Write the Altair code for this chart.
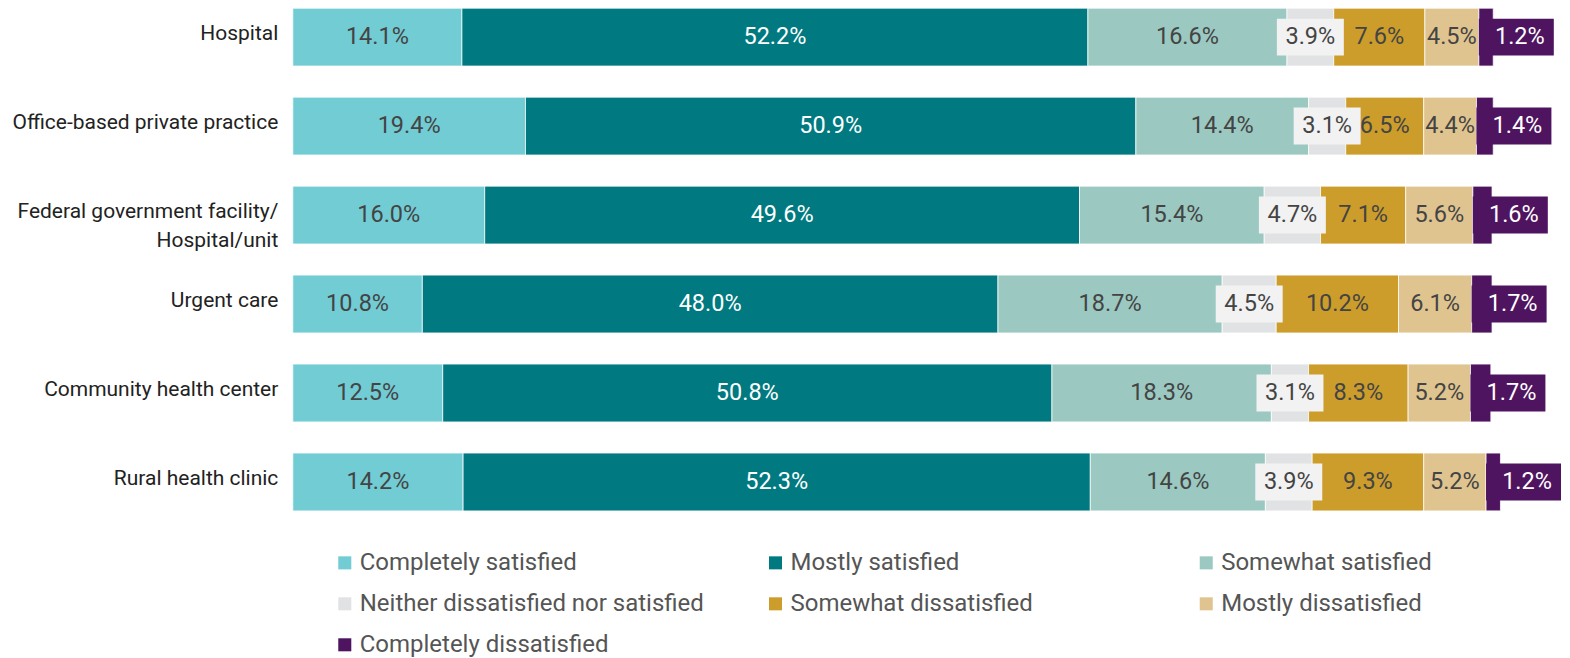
import altair as alt
import pandas as pd

categories = [
    "Hospital",
    "Office-based private practice",
    "Federal government facility/|Hospital/unit",
    "Urgent care",
    "Community health center",
    "Rural health clinic",
]
series = [
    "Completely satisfied",
    "Mostly satisfied",
    "Somewhat satisfied",
    "Neither dissatisfied nor satisfied",
    "Somewhat dissatisfied",
    "Mostly dissatisfied",
    "Completely dissatisfied",
]
colors = ["#72CCD4", "#007A80", "#9BC9C1", "#E1E2E3", "#CC9D2B", "#E0C48F", "#4E1460"]
text_colors = ["#444444", "#ffffff", "#444444", "#444444", "#444444", "#444444", "#ffffff"]

completely_satisfied = [14.1, 19.4, 16.0, 10.8, 12.5, 14.2]
mostly_satisfied = [52.2, 50.9, 49.6, 48.0, 50.8, 52.3]
somewhat_satisfied = [16.6, 14.4, 15.4, 18.7, 18.3, 14.6]
neither = [3.9, 3.1, 4.7, 4.5, 3.1, 3.9]
somewhat_dissatisfied = [7.6, 6.5, 7.1, 10.2, 8.3, 9.3]
mostly_dissatisfied = [4.5, 4.4, 5.6, 6.1, 5.2, 5.2]
completely_dissatisfied = [1.2, 1.4, 1.6, 1.7, 1.7, 1.2]

all_values = [completely_satisfied, mostly_satisfied, somewhat_satisfied, neither,
              somewhat_dissatisfied, mostly_dissatisfied, completely_dissatisfied]

rows = []
for ci, cat in enumerate(categories):
    cum = 0.0
    for si, s in enumerate(series):
        v = all_values[si][ci]
        rows.append({
            "category": cat, "series": s, "order": si, "value": v,
            "start": cum, "end": cum + v, "mid": cum + v / 2,
            "label": f"{v:.1f}%", "tcolor": text_colors[si],
        })
        cum += v
df = pd.DataFrame(rows)

FONT = "Roboto"
VFS = 23.5
y_enc = alt.Y("category:N", sort=categories, title=None,
              scale=alt.Scale(paddingInner=0.35, paddingOuter=0),
              axis=alt.Axis(domain=False, ticks=False, grid=False, labelFontSize=21,
                            labelColor="#222222", labelFont=FONT, labelPadding=15, labelLimit=400,
                            labelLineHeight=29, labelExpr="split(datum.value, '|')", labelOffset=-3))
x_scale = alt.Scale(domain=[0, 100], nice=False, zero=True)

def xq(field):
    return alt.X(field, scale=x_scale, axis=None, title=None)

bars = alt.Chart(df).mark_bar(stroke="white", strokeWidth=0.75).encode(
    x=xq("start:Q"),
    x2="end:Q",
    y=y_enc,
    color=alt.Color("series:N", sort=series,
                    scale=alt.Scale(domain=series, range=colors),
                    legend=alt.Legend(title=None, orient="none", legendX=40, legendY=543,
                                      columns=3, gridAlign="all", columnPadding=59, rowPadding=17,
                                      symbolType="square", symbolSize=170, symbolStrokeWidth=0,
                                      labelFontSize=24, labelColor="#555555", labelFont=FONT,
                                      labelOffset=3, labelLimit=500, direction="horizontal")),
    order=alt.Order("order:Q"),
)

mid_df = df[(df["order"] != 3) & (df["order"] != 6)]
neither_df = df[df["order"] == 3]
last_df = df[df["order"] == 6]

mid_text = alt.Chart(mid_df).mark_text(font=FONT, fontSize=VFS, baseline="middle", align="center").encode(
    x=xq("mid:Q"),
    y=y_enc,
    text="label:N",
    color=alt.Color("tcolor:N", scale=None),
)

neither_box = alt.Chart(neither_df).mark_rect(width=67, height=37, color="#F2F2F2").encode(
    x=xq("mid:Q"),
    y=y_enc,
)
neither_text = alt.Chart(neither_df).mark_text(font=FONT, fontSize=VFS, baseline="middle", align="center",
                                               color="#444444").encode(
    x=xq("mid:Q"),
    y=y_enc,
    text="label:N",
)

last_box = alt.Chart(last_df).mark_rect(width=75, height=37, color="#4E1460", xOffset=37.5).encode(
    x=xq("start:Q"),
    y=y_enc,
)
last_text = alt.Chart(last_df).mark_text(font=FONT, fontSize=VFS, baseline="middle", align="center",
                                         color="#ffffff", dx=41).encode(
    x=xq("start:Q"),
    y=y_enc,
    text="label:N",
)

chart = alt.layer(bars, mid_text, neither_box, neither_text, last_box, last_text).properties(
    width=1200, height=503,
    autosize=alt.AutoSizeParams(type="none"),
    padding={"left": 285, "top": 0, "right": 70, "bottom": 146},
).configure(font=FONT).configure_view(stroke=None).configure_axis(grid=False)

chart.save("out.html", embed_options={"renderer": "svg", "actions": False})
